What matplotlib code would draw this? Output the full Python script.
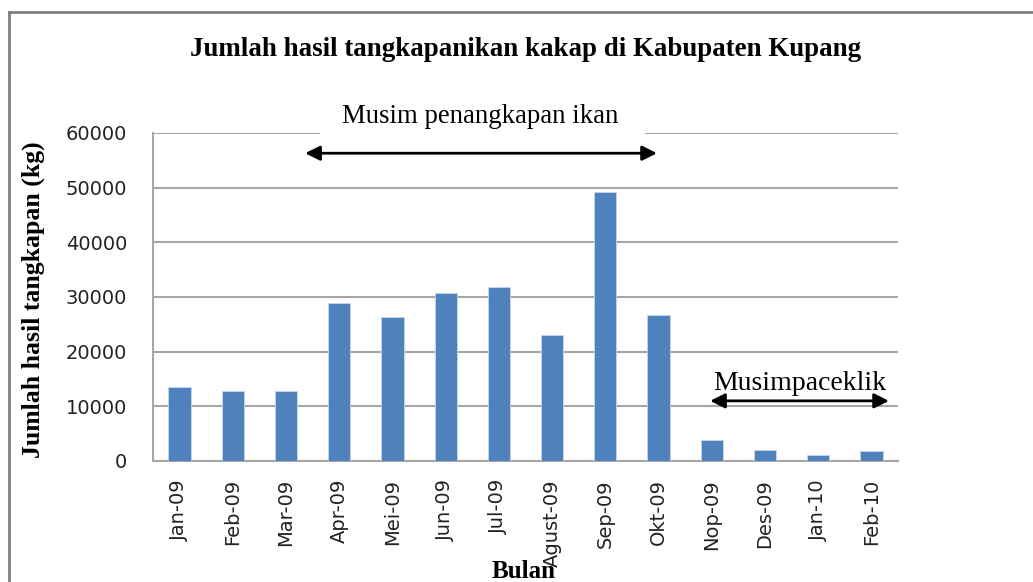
import matplotlib
matplotlib.use("Agg")
import matplotlib.pyplot as plt
from matplotlib.lines import Line2D
from matplotlib.patches import Rectangle
import numpy as np

categories = ["Jan-09", "Feb-09", "Mar-09", "Apr-09", "Mei-09", "Jun-09", "Jul-09",
              "Agust-09", "Sep-09", "Okt-09", "Nop-09", "Des-09", "Jan-10", "Feb-10"]
values = [13500, 12750, 12750, 28900, 26350, 30800, 31750,
          23050, 49150, 26700, 3850, 2000, 1050, 1750]
yticks = [0, 10000, 20000, 30000, 40000, 50000, 60000]

title = "Jumlah hasil tangkapanikan kakap di Kabupaten Kupang"
ylabel = "Jumlah hasil tangkapan (kg)"
xlabel = "Bulan"
season1 = "Musim penangkapan ikan"
season2 = "Musimpaceklik"

W, H = 1033, 582
fig = plt.figure(figsize=(W / 100, H / 100), dpi=100)
fig.patch.set_facecolor("white")

left, right, top, bottom = 153, 898, 133, 461
ax = fig.add_axes([left / W, 1 - bottom / H, (right - left) / W, (bottom - top) / H])

x = np.arange(len(categories))
ax.bar(x, values, width=0.42, color="#4F81BD", edgecolor="#c9d7ea", linewidth=0.6, zorder=3)

ax.set_xlim(-0.5, len(categories) - 0.5)
ax.set_ylim(0, 60000)
ax.set_yticks(yticks)
ax.set_yticklabels([str(v) for v in yticks], fontfamily="DejaVu Sans", fontsize=14)
ax.set_xticks(x)
ax.set_xticklabels(categories, rotation=90, fontfamily="DejaVu Sans", fontsize=14)
ax.tick_params(axis="y", length=0, pad=18.5, colors="#222222")
ax.tick_params(axis="x", length=0, pad=13, colors="#222222")
ax.grid(axis="y", color="#a6a6a6", linewidth=1.5, zorder=0)
for s in ["top", "right"]:
    ax.spines[s].set_visible(False)
for s in ["left", "bottom"]:
    ax.spines[s].set_color("#a6a6a6")
    ax.spines[s].set_linewidth(1.5)

# title and axis labels
fig.text(526 / W, 1 - 50 / H, title, ha="center", va="center",
         fontfamily="Liberation Serif", fontweight="bold", fontsize=19.4)
fig.text(33 / W, 1 - 300 / H, ylabel, ha="center", va="center", rotation=90,
         fontfamily="Liberation Serif", fontweight="bold", fontsize=18.5)
fig.text(524 / W, 1 - 572 / H, xlabel, ha="center", va="center",
         fontfamily="Liberation Serif", fontweight="bold", fontsize=18, zorder=5)

# season annotations
ax.add_patch(Rectangle((2.64, 58500), 6.11, 8000, facecolor="white", edgecolor="none",
                       clip_on=False, zorder=5))
ax.text(5.65, 63000, season1, ha="center", va="center", fontfamily="Liberation Serif",
        fontsize=19.3, clip_on=False, zorder=6)
ax.annotate("", xy=(2.36, 56300), xytext=(8.97, 56300),
            arrowprops=dict(arrowstyle="<|-|>", color="black", lw=2,
                            mutation_scale=22, shrinkA=0, shrinkB=0), zorder=6)
ax.text(11.66, 14200, season2, ha="center", va="center", fontfamily="Liberation Serif",
        fontsize=20, zorder=6)
ax.annotate("", xy=(9.97, 11000), xytext=(13.33, 11000),
            arrowprops=dict(arrowstyle="<|-|>", color="black", lw=2,
                            mutation_scale=22, shrinkA=0, shrinkB=0),
            annotation_clip=False, zorder=6)

# outer chart border (top and left visible)
fig.add_artist(Line2D([9 / W, 9 / W], [0, 1 - 12 / H], transform=fig.transFigure,
                      color="#808080", linewidth=2))
fig.add_artist(Line2D([9 / W, 1], [1 - 12 / H, 1 - 12 / H], transform=fig.transFigure,
                      color="#808080", linewidth=2))

fig.savefig("out.png", dpi=100)
